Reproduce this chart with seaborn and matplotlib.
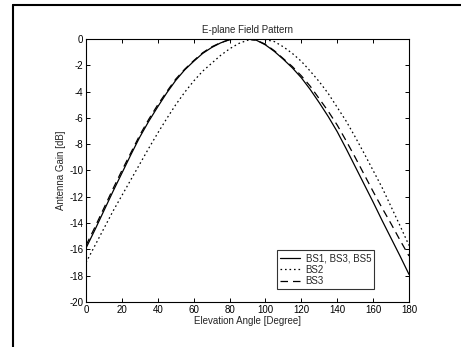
import numpy as np
import pandas as pd
import matplotlib
matplotlib.use("Agg")
import matplotlib.pyplot as plt
import seaborn as sns

angles = list(range(0, 181, 5))

bs1_bs3_bs5 = [-15.9, -14.5, -13.05, -11.6, -10.2, -8.8, -7.45, -6.25, -5.15, -4.1,
               -3.15, -2.35, -1.7, -1.1, -0.65, -0.3, -0.05, 0.0, 0.0, -0.1,
               -0.45, -0.95, -1.55, -2.2, -2.95, -3.85, -4.85, -5.9, -7.05, -8.35,
               -9.7, -11.05, -12.4, -13.8, -15.15, -16.5, -17.9]

bs2 = [-17.0, -15.7, -14.4, -13.1, -11.9, -10.7, -9.5, -8.3, -7.15, -6.05,
       -5.0, -4.05, -3.2, -2.45, -1.85, -1.25, -0.75, -0.35, -0.1, 0.0,
       -0.05, -0.2, -0.6, -1.1, -1.7, -2.45, -3.25, -4.15, -5.2, -6.25,
       -7.45, -8.7, -10.0, -11.3, -12.75, -14.2, -15.7]

bs3 = [-15.7, -14.3, -12.85, -11.4, -10.0, -8.65, -7.3, -6.1, -5.0, -4.0,
       -3.05, -2.3, -1.65, -1.05, -0.6, -0.28, -0.05, 0.0, 0.0, -0.1,
       -0.4, -0.9, -1.5, -2.1, -2.8, -3.6, -4.55, -5.5, -6.55, -7.75,
       -9.0, -10.3, -11.6, -12.85, -14.05, -15.3, -16.5]

x_ticks = list(range(0, 181, 20))
y_ticks = list(range(-20, 1, 2))

sns.set_theme(style="ticks")
plt.rcParams["font.family"] = ["Liberation Sans", "DejaVu Sans"]
plt.rcParams["axes.unicode_minus"] = False
plt.rcParams["xtick.direction"] = "in"
plt.rcParams["ytick.direction"] = "in"

fig = plt.figure(figsize=(4.61, 3.47), dpi=100)
ax = fig.add_axes([0.1866, 0.1297, 0.7006, 0.758])

sns.lineplot(x=angles, y=bs1_bs3_bs5, ax=ax, color="black", lw=0.9,
             linestyle="-", label="BS1, BS3, BS5")
sns.lineplot(x=angles, y=bs2, ax=ax, color="black", lw=0.9,
             linestyle=(0, (1.3, 2.3)), label="BS2")
sns.lineplot(x=angles, y=bs3, ax=ax, color="black", lw=0.9,
             linestyle=(0, (6, 4)), label="BS3")

ax.set_xlim(0, 180)
ax.set_ylim(-20, 0)
ax.set_xticks(x_ticks)
ax.set_yticks(y_ticks)
ax.tick_params(axis="both", labelsize=7, length=3, width=0.7,
               top=True, right=True, pad=2, colors="black")
for s in ax.spines.values():
    s.set_linewidth(0.8)
    s.set_color("black")

ax.set_title("E-plane Field Pattern", fontsize=7, pad=4)
ax.set_xlabel("Elevation Angle [Degree]", fontsize=7, labelpad=1)
ax.set_ylabel("Antenna Gain [dB]", fontsize=7, labelpad=2)

leg = ax.legend(loc="lower right", bbox_to_anchor=(0.8916, 0.0494),
                fontsize=7, frameon=True, fancybox=False, handlelength=2.0,
                borderpad=0.3, labelspacing=0.15, handletextpad=0.6,
                borderaxespad=0)
leg.get_frame().set_edgecolor("black")
leg.get_frame().set_linewidth(0.8)

# scanned page frame (top and left edges)
fig.add_artist(plt.Line2D([13 / 461, 1.0], [1 - 5 / 347, 1 - 5 / 347],
                          transform=fig.transFigure, color="black", lw=1.5))
fig.add_artist(plt.Line2D([13 / 461, 13 / 461], [0.0, 1 - 5 / 347],
                          transform=fig.transFigure, color="black", lw=1.5))

fig.savefig("out.png", dpi=100, facecolor="white")
